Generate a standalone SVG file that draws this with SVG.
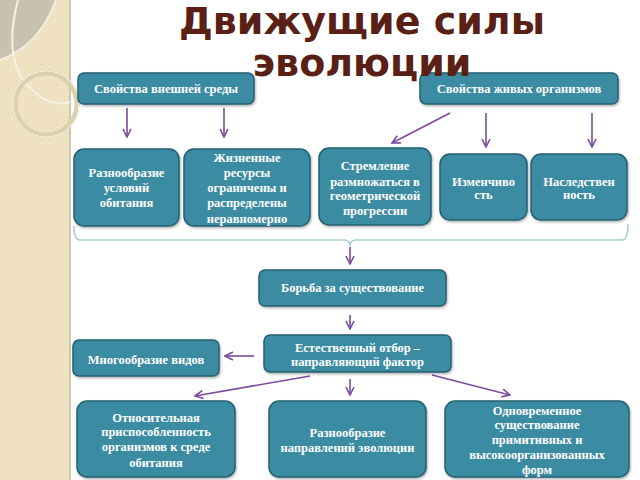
<svg xmlns="http://www.w3.org/2000/svg" width="640" height="480" viewBox="0 0 640 480">
  <defs>
    <pattern id="dots" width="4" height="4" patternUnits="userSpaceOnUse">
      <rect width="4" height="4" fill="#f0e4c4"/>
      <rect x="0" y="0" width="1" height="1" fill="#e2d2aa"/>
      <rect x="2" y="2" width="1" height="1" fill="#e6d8b4"/>
    </pattern>
    <marker id="ah" viewBox="0 0 10 10" refX="9" refY="5" markerWidth="10" markerHeight="10" markerUnits="userSpaceOnUse" orient="auto">
      <path d="M1,1 L9,5 L1,9" fill="none" stroke="#7a4b9c" stroke-width="1.6"/>
    </marker>
    <filter id="sh" x="-10%" y="-10%" width="120%" height="130%">
      <feDropShadow dx="1" dy="1.5" stdDeviation="1" flood-color="#000" flood-opacity="0.3"/>
    </filter>
  </defs>
  <style>
    .box { fill: #3a8ca2; stroke: #245f70; stroke-width: 1.5; filter: url(#sh); }
    .t { font-family: "Liberation Serif", "DejaVu Serif", serif; font-weight: bold; font-size: 12.5px; fill: #ffffff; text-anchor: middle; }
    .title { font-family: "DejaVu Sans", "Verdana", sans-serif; font-weight: bold; font-size: 38px; fill: #5a1f15; text-anchor: middle; }
    .arr { stroke: #7a4b9c; stroke-width: 1.6; fill: none; marker-end: url(#ah); }
  </style>

  <rect width="640" height="480" fill="#ffffff"/>
  <!-- left decorative strip -->
  <g id="strip">
    <rect x="0" y="0" width="69" height="480" fill="url(#dots)"/>
    <line x1="70" y1="0" x2="70" y2="480" stroke="#cfc6ae" stroke-width="2"/>
    <path d="M0,0 L56,0 Q40,45 0,60 Z" fill="#c9c1b0"/>
    <path d="M56,0 Q40,45 0,60" fill="none" stroke="#f4eee0" stroke-width="2"/>
    <path d="M18,0 Q2,60 30,88 Q50,108 70,102" fill="none" stroke="#f6f1e4" stroke-width="2"/>
    <circle cx="46" cy="104" r="31" fill="none" stroke="#dccfae" stroke-width="5"/>
    <circle cx="46" cy="104" r="33" fill="none" stroke="#f6f1e4" stroke-width="1"/>
  </g>

  <g id="connectors">
    <line class="arr" x1="127" y1="108" x2="127" y2="137"/>
    <line class="arr" x1="224" y1="108" x2="224" y2="137"/>
    <line class="arr" x1="450" y1="113" x2="392" y2="143"/>
    <line class="arr" x1="486" y1="113" x2="486" y2="147"/>
    <line class="arr" x1="592" y1="113" x2="592" y2="147"/>
    <path d="M74,226 Q74,240 80,240 L344,240 Q350,240 350,246 Q350,240 356,240 L622,240 Q628,240 628,224" fill="none" stroke="#a6cbd2" stroke-width="1.5"/>
    <line class="arr" x1="350" y1="247" x2="350" y2="264"/>
    <line class="arr" x1="350" y1="315" x2="350" y2="329"/>
    <line class="arr" x1="254" y1="356" x2="225" y2="356"/>
    <line class="arr" x1="310" y1="376" x2="195" y2="396"/>
    <line class="arr" x1="350" y1="379" x2="350" y2="395"/>
    <line class="arr" x1="432" y1="375" x2="510" y2="395"/>
  </g>

  <g id="n-env">
    <rect class="box" x="78" y="73" width="176" height="31" rx="6"/>
    <text class="t" x="166" y="93">Свойства внешней среды</text>
  </g>
  <g id="n-org">
    <rect class="box" x="420" y="73" width="198" height="31" rx="6"/>
    <text class="t" x="519" y="93">Свойства живых организмов</text>
  </g>

  <g id="n-cond">
    <rect class="box" x="74" y="149" width="105" height="77" rx="10"/>
    <text class="t" x="126.5" y="177">Разнообразие</text>
    <text class="t" x="126.5" y="192">условий</text>
    <text class="t" x="126.5" y="207">обитания</text>
  </g>
  <g id="n-res">
    <rect class="box" x="184" y="149" width="126" height="77" rx="10"/>
    <text class="t" x="247" y="162">Жизненные</text>
    <text class="t" x="247" y="177">ресурсы</text>
    <text class="t" x="247" y="192">ограничены и</text>
    <text class="t" x="247" y="207">распределены</text>
    <text class="t" x="247" y="223">неравномерно</text>
  </g>
  <g id="n-repro">
    <rect class="box" x="319" y="148" width="112" height="77" rx="10"/>
    <text class="t" x="375" y="170">Стремление</text>
    <text class="t" x="375" y="186">размножаться в</text>
    <text class="t" x="375" y="200">геометрической</text>
    <text class="t" x="375" y="215">прогрессии</text>
  </g>
  <g id="n-var">
    <rect class="box" x="440" y="154" width="87" height="66" rx="10"/>
    <text class="t" x="483.5" y="186">Изменчиво</text>
    <text class="t" x="483.5" y="199">сть</text>
  </g>
  <g id="n-her">
    <rect class="box" x="531" y="154" width="96" height="66" rx="10"/>
    <text class="t" x="579" y="186">Наследствен</text>
    <text class="t" x="579" y="199">ность</text>
  </g>

  <g id="n-struggle">
    <rect class="box" x="259" y="270" width="187" height="36" rx="6"/>
    <text class="t" x="352.5" y="292">Борьба за существование</text>
  </g>
  <g id="n-selection">
    <rect class="box" x="264" y="335" width="187" height="37" rx="6"/>
    <text class="t" x="357.5" y="352">Естественный отбор –</text>
    <text class="t" x="357.5" y="366">направляющий фактор</text>
  </g>
  <g id="n-species">
    <rect class="box" x="73" y="340" width="146" height="36" rx="6"/>
    <text class="t" x="146" y="364">Многообразие видов</text>
  </g>

  <g id="n-adapt">
    <rect class="box" x="77" y="401" width="158" height="76" rx="10"/>
    <text class="t" x="156" y="422">Относительная</text>
    <text class="t" x="156" y="436">приспособленность</text>
    <text class="t" x="156" y="451">организмов к среде</text>
    <text class="t" x="156" y="467">обитания</text>
  </g>
  <g id="n-dirs">
    <rect class="box" x="269" y="401" width="157" height="76" rx="10"/>
    <text class="t" x="347.5" y="437">Разнообразие</text>
    <text class="t" x="347.5" y="452">направлений эволюции</text>
  </g>
  <g id="n-coexist">
    <rect class="box" x="445" y="401" width="184" height="76" rx="10"/>
    <text class="t" x="537" y="415">Одновременное</text>
    <text class="t" x="537" y="429">существование</text>
    <text class="t" x="537" y="444">примитивных и</text>
    <text class="t" x="537" y="459">высокоорганизованных</text>
    <text class="t" x="537" y="474">форм</text>
  </g>

  <g id="title">
    <text class="title" x="362" y="34">Движущие силы</text>
    <text class="title" x="362" y="76">эволюции</text>
  </g>
</svg>
